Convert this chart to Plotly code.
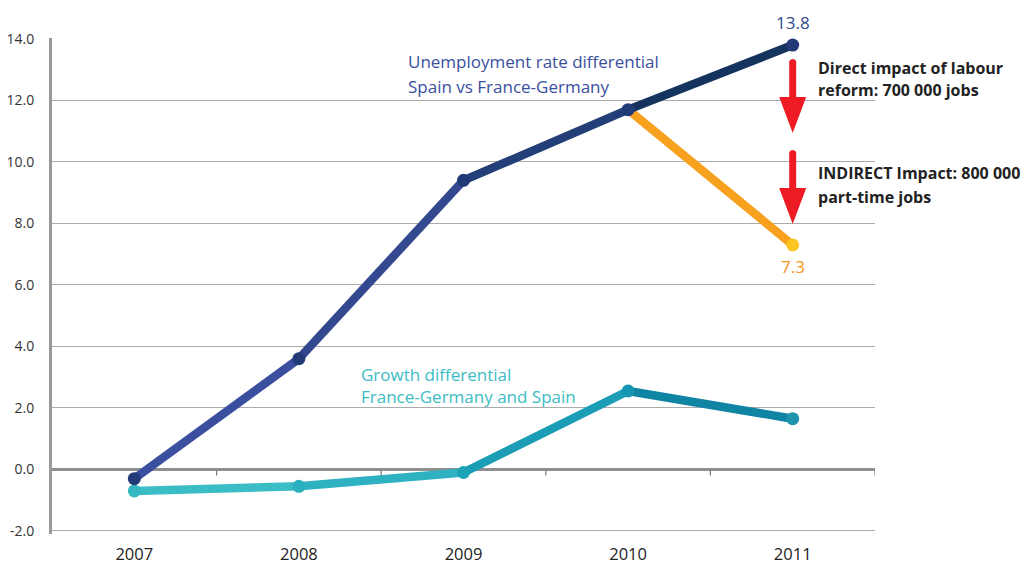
import plotly.graph_objects as go

# ---- data ----
years = [2007, 2008, 2009, 2010, 2011]
unemployment_diff = [-0.3, 3.6, 9.4, 11.7, 13.8]
growth_diff = [-0.7, -0.55, -0.1, 2.55, 1.65]
reform_years = [2010, 2011]
reform_values = [11.7, 7.3]
y_ticks = [-2, 0, 2, 4, 6, 8, 10, 12, 14]

# ---- style ----
unemp_seg_colors = ["#3b4f9f", "#33488f", "#243e77", "#14345f"]
unemp_marker_color = "#223a78"
growth_seg_colors = ["#3bbdc5", "#2eb2c1", "#1b9db6", "#0f84a3"]
growth_marker_colors = ["#35b8c2", "#2bb0bf", "#1da3b8", "#1796b2", "#1e93ae"]
orange = "#f7a11e"
red = "#ed1c24"

L, R, T, B = 52, 155, 38, 35
W, H = 1030, 569
plot_w = W - L - R
plot_h = H - T - B


def px(x):
    return (x - L) / plot_w


def py(y):
    return (H - B - y) / plot_h


fig = go.Figure()

# orange reform line (below the blue markers)
fig.add_trace(go.Scatter(x=reform_years, y=reform_values, mode="lines",
                         line=dict(color=orange, width=8.5), hoverinfo="skip",
                         showlegend=False))

# growth differential segments
for i in range(len(years) - 1):
    fig.add_trace(go.Scatter(x=years[i:i + 2], y=growth_diff[i:i + 2], mode="lines",
                             line=dict(color=growth_seg_colors[i], width=8.5),
                             showlegend=False, hoverinfo="skip"))
fig.add_trace(go.Scatter(x=years, y=growth_diff, mode="markers",
                         marker=dict(color=growth_marker_colors, size=13),
                         showlegend=False, name="Growth differential"))

# unemployment differential segments
for i in range(len(years) - 1):
    fig.add_trace(go.Scatter(x=years[i:i + 2], y=unemployment_diff[i:i + 2], mode="lines",
                             line=dict(color=unemp_seg_colors[i], width=8.5),
                             showlegend=False, hoverinfo="skip"))
fig.add_trace(go.Scatter(x=years, y=unemployment_diff, mode="markers",
                         marker=dict(color=unemp_marker_color, size=13),
                         showlegend=False, name="Unemployment rate differential"))

# end marker of the reform line
fig.add_trace(go.Scatter(x=reform_years[-1:], y=reform_values[-1:], mode="markers",
                         marker=dict(color="#fbc622", size=13),
                         showlegend=False, name="After reform"))

# tick marks on the zero line, between categories
shapes = []
for yv in years:
    shapes.append(dict(type="line", xref="x", yref="y", x0=yv + 0.5, x1=yv + 0.5,
                       ysizemode="pixel", yanchor=0, y0=-1, y1=-6,
                       line=dict(color="#777777", width=1.2)))


# red arrows (decorations)
def arrow(x_anchor, y_top_px, y_base_px, y_tip_px):
    # paths in pixels relative to anchor point (paper coords)
    return dict(type="path", xref="x", yref="paper", xsizemode="pixel",
                xanchor=x_anchor, ysizemode="pixel", yanchor=py(y_top_px),
                path=(f"M-3.5,0 Q0,4 3.5,0 L3.5,{y_top_px - y_base_px} L13.5,{y_top_px - y_base_px} "
                      f"L0,{y_top_px - y_tip_px} L-13.5,{y_top_px - y_base_px} "
                      f"L-3.5,{y_top_px - y_base_px} Z"),
                fillcolor=red, line=dict(width=0))


shapes.append(arrow(years[-1], 61, 97, 133))
shapes.append(arrow(years[-1], 152, 188, 224))

font_main = "Open Sans, DejaVu Sans, sans-serif"

annotations = [
    dict(x=years[-1], y=unemployment_diff[-1], xref="x", yref="y", text="13.8",
         showarrow=False, yanchor="bottom", yshift=9,
         font=dict(size=17, color="#2e4a8e", family=font_main)),
    dict(x=reform_years[-1], y=reform_values[-1], xref="x", yref="y", text="7.3",
         showarrow=False, yanchor="top", yshift=-8,
         font=dict(size=17, color="#f7941d", family=font_main)),
]


def label(x, y, text, color, bold=False, size=17):
    return dict(x=px(x), y=py(y), xref="paper", yref="paper", text=f"<b>{text}</b>" if bold else text,
                showarrow=False, xanchor="left", yanchor="middle",
                font=dict(size=size, color=color, family=font_main))


annotations += [
    label(406, 62, "Unemployment rate differential", "#3a4f9e"),
    label(406, 86, "Spain vs France-Germany", "#3a4f9e"),
    label(359, 374, "Growth differential", "#3bbcc4"),
    label(359, 396, "France-Germany and Spain", "#3bbcc4"),
    label(816, 68, "Direct impact of labour", "#222222", bold=True, size=16),
    label(816, 90, "reform: 700 000 jobs", "#222222", bold=True, size=16),
    label(816, 173, "INDIRECT Impact: 800 000", "#222222", bold=True, size=16),
    label(816, 197, "part-time jobs", "#222222", bold=True, size=16),
]

fig.update_layout(
    width=W, height=H,
    margin=dict(l=L, r=R, t=T, b=B, autoexpand=False),
    paper_bgcolor="white", plot_bgcolor="white",
    showlegend=False,
    shapes=shapes,
    annotations=annotations,
    xaxis=dict(range=[2006.5, 2011.5], tickvals=years, ticktext=[str(y) for y in years],
               showgrid=False, zeroline=False, showline=False, ticks="",
               tickfont=dict(size=16.5, color="#222222", family=font_main),
               ticklabelstandoff=8, automargin=False),
    yaxis=dict(range=[-2.1, 14.03], tickvals=y_ticks,
               ticktext=[f"{v:.1f}" for v in y_ticks],
               showgrid=True, gridcolor="#ababab", gridwidth=1,
               zeroline=True, zerolinecolor="#8f8f8f", zerolinewidth=3,
               showline=True, linecolor="#9a9a9a", linewidth=3, ticks="",
               tickfont=dict(size=14, color="#333333", family=font_main),
               ticklabelstandoff=12, automargin=False),
)

fig.write_html("out.html", config={"displayModeBar": False},
               post_script="document.body.style.margin='0';")
